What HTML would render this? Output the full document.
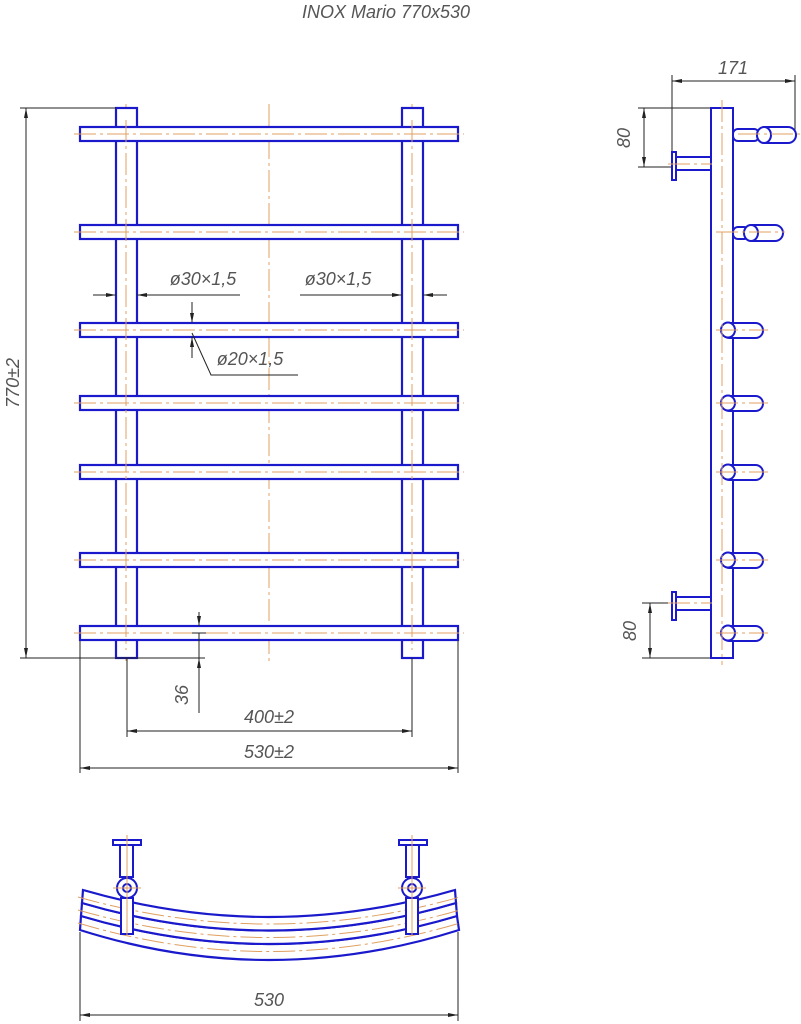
<!DOCTYPE html>
<html><head><meta charset="utf-8"><style>
html,body{margin:0;padding:0;background:#fff;}
svg{display:block}
text{font-family:"Liberation Sans",sans-serif;font-style:italic;fill:#555;font-size:18px}
</style></head><body>
<svg width="801" height="1024" viewBox="0 0 801 1024" xmlns="http://www.w3.org/2000/svg">
<defs>
<marker id="a" viewBox="0 0 10 4" refX="10" refY="2" markerWidth="10" markerHeight="4" orient="auto-start-reverse" markerUnits="userSpaceOnUse"><path d="M0,0L10,2L0,4z" fill="#222"/></marker>
</defs>
<text x="386" y="18" text-anchor="middle" font-size="16">INOX Mario 770x530</text>

<!-- FRONT VIEW -->
<g stroke="#e0a060" stroke-width="1" stroke-dasharray="22,4,3,4" fill="none">
<line x1="269" y1="104" x2="269" y2="662"/>
<line x1="126" y1="104" x2="126" y2="662"/>
<line x1="412" y1="104" x2="412" y2="662"/>
</g>
<g fill="#fff" stroke="#1a1acc" stroke-width="2.2">
<rect x="116" y="108" width="21" height="550"/>
<rect x="402" y="108" width="21" height="550"/>
<rect x="80" y="127" width="378" height="14"/>
<rect x="80" y="225" width="378" height="14"/>
<rect x="80" y="323" width="378" height="14"/>
<rect x="80" y="396" width="378" height="14"/>
<rect x="80" y="465" width="378" height="14"/>
<rect x="80" y="553" width="378" height="14"/>
<rect x="80" y="626" width="378" height="14"/>
</g>
<g stroke="#e0a060" stroke-width="1" stroke-dasharray="22,4,3,4">
<line x1="74" y1="134" x2="464" y2="134"/><line x1="74" y1="232" x2="464" y2="232"/>
<line x1="74" y1="330" x2="464" y2="330"/><line x1="74" y1="403" x2="464" y2="403"/>
<line x1="74" y1="472" x2="464" y2="472"/><line x1="74" y1="560" x2="464" y2="560"/>
<line x1="74" y1="633" x2="464" y2="633"/>
<line x1="126" y1="120" x2="126" y2="650"/><line x1="412" y1="120" x2="412" y2="650"/>
</g>
<g stroke="#222" stroke-width="1" fill="none">
<line x1="20" y1="108" x2="116" y2="108"/>
<line x1="20" y1="658" x2="205" y2="658"/>
<line x1="26" y1="108" x2="26" y2="658" marker-start="url(#a)" marker-end="url(#a)"/>
<line x1="199" y1="612" x2="199" y2="626" marker-end="url(#a)"/>
<line x1="199" y1="633" x2="199" y2="713"/>
<line x1="192" y1="633" x2="206" y2="633"/>
<line x1="199" y1="672" x2="199" y2="658" marker-end="url(#a)"/>
<line x1="127" y1="658" x2="127" y2="737"/><line x1="412" y1="658" x2="412" y2="737"/>
<line x1="127" y1="731" x2="412" y2="731" marker-start="url(#a)" marker-end="url(#a)"/>
<line x1="80" y1="641" x2="80" y2="773"/><line x1="458" y1="641" x2="458" y2="773"/>
<line x1="80" y1="768" x2="458" y2="768" marker-start="url(#a)" marker-end="url(#a)"/>
<line x1="93" y1="295" x2="116" y2="295" marker-end="url(#a)"/>
<line x1="240" y1="295" x2="137" y2="295" marker-end="url(#a)"/>
<line x1="300" y1="295" x2="402" y2="295" marker-end="url(#a)"/>
<line x1="447" y1="295" x2="423" y2="295" marker-end="url(#a)"/>
<line x1="192" y1="302" x2="192" y2="323" marker-end="url(#a)"/>
<line x1="192" y1="358" x2="192" y2="337" marker-end="url(#a)"/>
<polyline points="192,333 211,375 298,375"/>
</g>
<text x="19" y="383" text-anchor="middle" transform="rotate(-90 19 383)">770±2</text>
<text x="188" y="695" text-anchor="middle" transform="rotate(-90 188 695)">36</text>
<text x="269" y="723" text-anchor="middle">400±2</text>
<text x="269" y="758" text-anchor="middle">530±2</text>
<text x="203" y="285" text-anchor="middle">ø30×1,5</text>
<text x="338" y="285" text-anchor="middle">ø30×1,5</text>
<text x="250" y="365" text-anchor="middle">ø20×1,5</text>

<!-- SIDE VIEW -->
<g stroke="#222" stroke-width="1" fill="none">
<line x1="672" y1="75" x2="672" y2="160"/>
<line x1="795" y1="75" x2="795" y2="135"/>
<line x1="672" y1="81" x2="795" y2="81" marker-start="url(#a)" marker-end="url(#a)"/>
<line x1="638" y1="108" x2="711" y2="108"/>
<line x1="638" y1="167" x2="672" y2="167"/>
<line x1="644" y1="108" x2="644" y2="167" marker-start="url(#a)" marker-end="url(#a)"/>
<line x1="642" y1="603" x2="672" y2="603"/>
<line x1="642" y1="658" x2="711" y2="658"/>
<line x1="650" y1="603" x2="650" y2="658" marker-start="url(#a)" marker-end="url(#a)"/>
</g>
<text x="733" y="74" text-anchor="middle">171</text>
<text x="630" y="138" text-anchor="middle" transform="rotate(-90 630 138)">80</text>
<text x="636" y="631" text-anchor="middle" transform="rotate(-90 636 631)">80</text>
<g fill="#fff" stroke="#1a1acc" stroke-width="2">
<rect x="711" y="108" width="22" height="550"/>
<rect x="676" y="157" width="35" height="13"/>
<rect x="672" y="152" width="4" height="28"/>
<rect x="676" y="597" width="35" height="13"/>
<rect x="672" y="592" width="4" height="28"/>
<rect x="733" y="129" width="26" height="12" rx="5"/>
<rect x="757" y="127" width="39" height="16" rx="8"/>
<ellipse cx="764" cy="135" rx="7" ry="8"/>
<rect x="733" y="227" width="16" height="12" rx="5"/>
<rect x="745" y="225" width="38" height="16" rx="8"/>
<ellipse cx="751" cy="233" rx="7" ry="8"/>
<g>
<rect x="722" y="323" width="41" height="15" rx="7.5"/><ellipse cx="728" cy="330" rx="7" ry="7.5"/>
<rect x="722" y="396" width="41" height="15" rx="7.5"/><ellipse cx="728" cy="403" rx="7" ry="7.5"/>
<rect x="722" y="465" width="41" height="15" rx="7.5"/><ellipse cx="728" cy="472" rx="7" ry="7.5"/>
<rect x="722" y="553" width="41" height="15" rx="7.5"/><ellipse cx="728" cy="560" rx="7" ry="7.5"/>
<rect x="722" y="626" width="41" height="15" rx="7.5"/><ellipse cx="728" cy="633" rx="7" ry="7.5"/>
</g>
</g>
<line x1="711" y1="108" x2="711" y2="658" stroke="#1a1acc" stroke-width="2"/>
<g stroke="#e0a060" stroke-width="1" stroke-dasharray="22,4,3,4">
<line x1="722" y1="100" x2="722" y2="665"/>
<line x1="738" y1="134" x2="800" y2="134"/><line x1="716" y1="232" x2="785" y2="232"/>
<line x1="716" y1="330" x2="768" y2="330"/><line x1="716" y1="403" x2="768" y2="403"/>
<line x1="716" y1="472" x2="768" y2="472"/><line x1="716" y1="560" x2="768" y2="560"/>
<line x1="716" y1="633" x2="768" y2="633"/>
<line x1="668" y1="164" x2="712" y2="164"/><line x1="668" y1="603" x2="712" y2="603"/>
</g>

<!-- BOTTOM VIEW -->
<g fill="#fff" stroke="#1a1acc" stroke-width="2.2">
<path d="M81,916 Q269,972 457,916 L459,930 Q269,990 80,930 Z"/>
<path d="M82,903 Q269,958 456,903 L457,916 Q269,972 81,916 Z"/>
<path d="M83,890 Q269,944 455,890 L456,903 Q269,958 82,903 Z"/>
</g>
<g stroke="#e0a060" stroke-width="1" stroke-dasharray="22,4,3,4" fill="none">
<path d="M78,897 Q269,951 460,897"/>
<path d="M78,910 Q269,965 460,910"/>
<path d="M78,923 Q269,980 460,923"/>
</g>
<g fill="#fff" stroke="#1a1acc" stroke-width="2">
<rect x="121" y="898" width="12" height="36"/>
<rect x="406" y="898" width="12" height="36"/>
<rect x="120" y="845" width="13" height="32"/>
<rect x="113" y="840" width="28" height="5"/>
<rect x="406" y="845" width="13" height="32"/>
<rect x="399" y="840" width="28" height="5"/>
<circle cx="127" cy="888" r="10"/><circle cx="127" cy="888" r="4"/>
<circle cx="412" cy="888" r="10"/><circle cx="412" cy="888" r="4"/>
</g>
<g stroke="#e0a060" stroke-width="1">
<line x1="127" y1="835" x2="127" y2="935"/><line x1="412" y1="835" x2="412" y2="935"/>
<line x1="113" y1="888" x2="141" y2="888"/><line x1="398" y1="888" x2="426" y2="888"/>
</g>
<g stroke="#222" stroke-width="1">
<line x1="80" y1="932" x2="80" y2="1021"/><line x1="458" y1="932" x2="458" y2="1021"/>
<line x1="80" y1="1015" x2="458" y2="1015" marker-start="url(#a)" marker-end="url(#a)"/>
</g>
<text x="269" y="1006" text-anchor="middle">530</text>
</svg>
</body></html>
